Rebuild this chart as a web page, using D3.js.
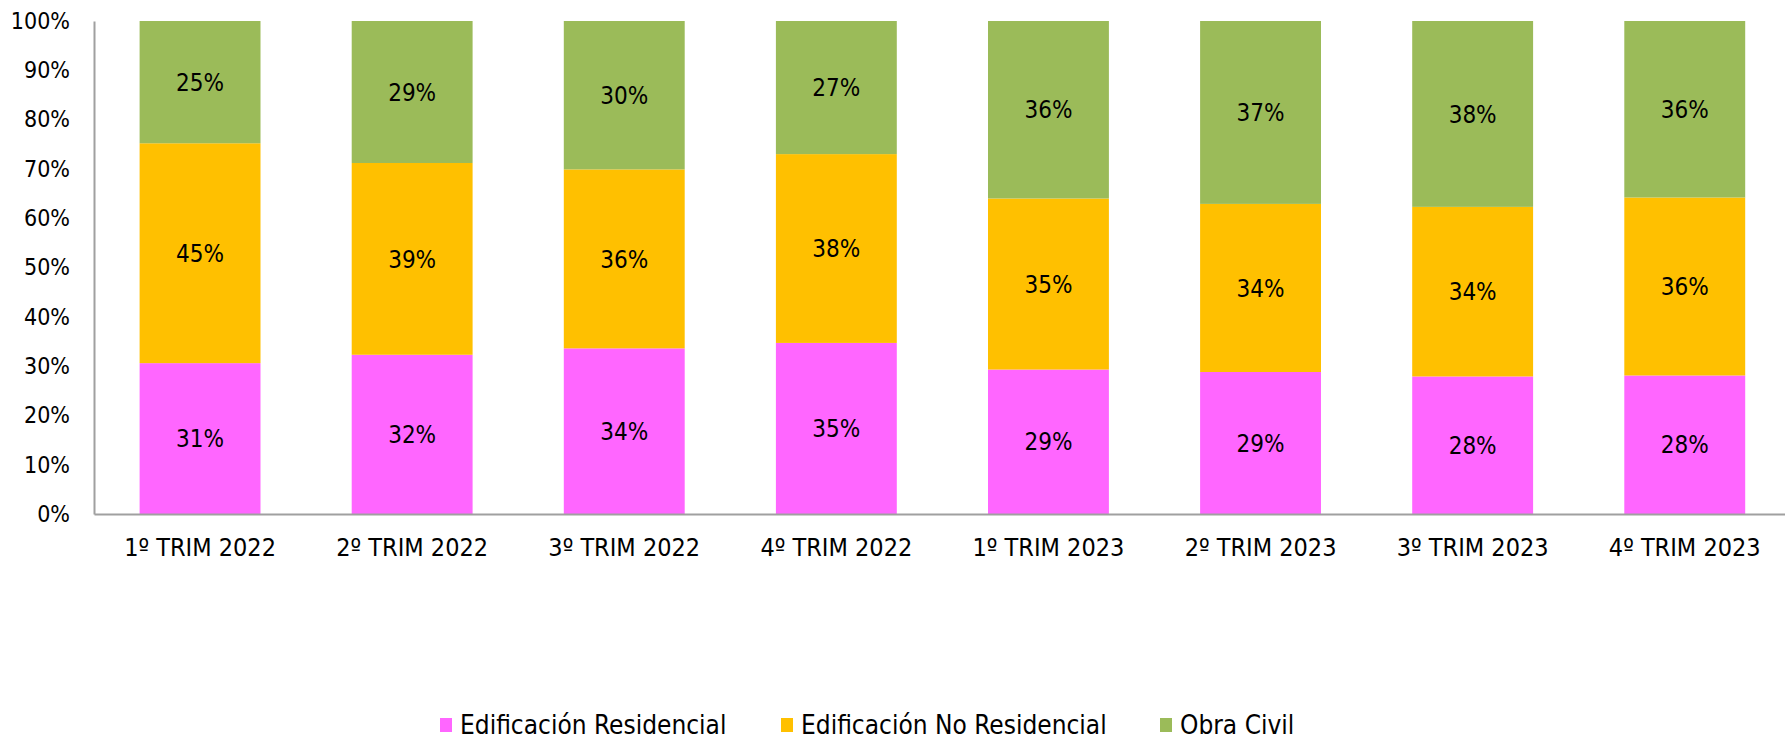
<!DOCTYPE html>
<html>
<head>
  <meta charset="utf-8">
  <title>Stacked bars</title>
  <script src="https://cdn.jsdelivr.net/npm/d3@7/dist/d3.min.js"></script>
  <style>
    body { margin: 0; background: #fff; }
    svg text {
      font-family: 'DejaVu Sans Condensed', 'DejaVu Sans', sans-serif;
      font-stretch: condensed;
      fill: #000;
    }
  </style>
</head>
<body>
  <svg id="chart" width="1785" height="743"></svg>

  <script>
    // data (shares, in %)
    var quarters = ['1º TRIM 2022', '2º TRIM 2022', '3º TRIM 2022', '4º TRIM 2022',
      '1º TRIM 2023', '2º TRIM 2023', '3º TRIM 2023', '4º TRIM 2023'];
    var residencial = [30.6, 32.3, 33.6, 34.7, 29.3, 28.8, 27.9, 28.1];
    var noResidencial = [44.6, 38.9, 36.3, 38.3, 34.7, 34.1, 34.4, 36.1];
    var obraCivil = [24.8, 28.8, 30.1, 27.0, 36.0, 37.1, 37.7, 35.8];
    var seriesNames = ['Edificación Residencial', 'Edificación No Residencial', 'Obra Civil'];
    var colors = ['#ff66ff', '#ffc000', '#9bbb59'];
    var yTicks = [0, 10, 20, 30, 40, 50, 60, 70, 80, 90, 100];

    var data = quarters.map((q, i) => ({
      q: q,
      'Edificación Residencial': residencial[i],
      'Edificación No Residencial': noResidencial[i],
      'Obra Civil': obraCivil[i]
    }));

    var svg = d3.select('#chart'),
      margin = { top: 21, left: 94, bottom: 229 },
      plotBottom = +svg.attr('height') - margin.bottom;

    var x = d3.scaleBand()
      .domain(quarters)
      .range([margin.left, margin.left + 8 * 212.1])
      .paddingInner(0.43)
      .paddingOuter(0.215);

    var y = d3.scaleLinear()
      .domain([0, 100])
      .range([plotBottom, margin.top]);

    var stack = d3.stack().keys(seriesNames)(data);

    var layers = svg.append('g')
      .selectAll('g')
      .data(stack)
      .join('g')
      .attr('fill', (d, i) => colors[i]);

    layers.selectAll('rect')
      .data(d => d)
      .join('rect')
      .attr('x', d => x(d.data.q))
      .attr('width', x.bandwidth())
      .attr('y', d => y(d[1]))
      .attr('height', d => y(d[0]) - y(d[1]));

    layers.selectAll('text')
      .data(d => d)
      .join('text')
      .attr('x', d => x(d.data.q) + x.bandwidth() / 2)
      .attr('y', d => (y(d[0]) + y(d[1])) / 2)
      .attr('dy', '0.36em')
      .attr('text-anchor', 'middle')
      .attr('font-size', 24)
      .text(d => Math.round(d[1] - d[0]) + '%');

    // y axis
    var yAxis = svg.append('g')
      .attr('transform', 'translate(' + margin.left + ',0)')
      .call(d3.axisLeft(y).tickValues(yTicks).tickSize(0).tickPadding(24).tickFormat(d => d + '%'));
    yAxis.select('.domain').attr('stroke', '#a0a0a0').attr('stroke-width', 2);
    yAxis.selectAll('text').attr('font-size', 23).attr('font-family', null);

    // x axis
    var xAxis = svg.append('g')
      .attr('transform', 'translate(0,' + plotBottom + ')')
      .call(d3.axisBottom(x).tickSize(0).tickPadding(24));
    xAxis.select('.domain').attr('stroke', '#a0a0a0').attr('stroke-width', 2);
    xAxis.selectAll('text').attr('font-size', 25).attr('font-family', null);

    // legend
    var legendX = [440, 781, 1160];
    var legend = svg.append('g')
      .selectAll('g')
      .data(seriesNames)
      .join('g')
      .attr('transform', (d, i) => 'translate(' + legendX[i] + ',725)');
    legend.append('rect')
      .attr('x', 0).attr('y', -7)
      .attr('width', 12).attr('height', 14)
      .attr('fill', (d, i) => colors[i]);
    legend.append('text')
      .attr('x', 20)
      .attr('dy', '0.36em')
      .attr('font-size', 26)
      .text(d => d);
  </script>
</body>
</html>
